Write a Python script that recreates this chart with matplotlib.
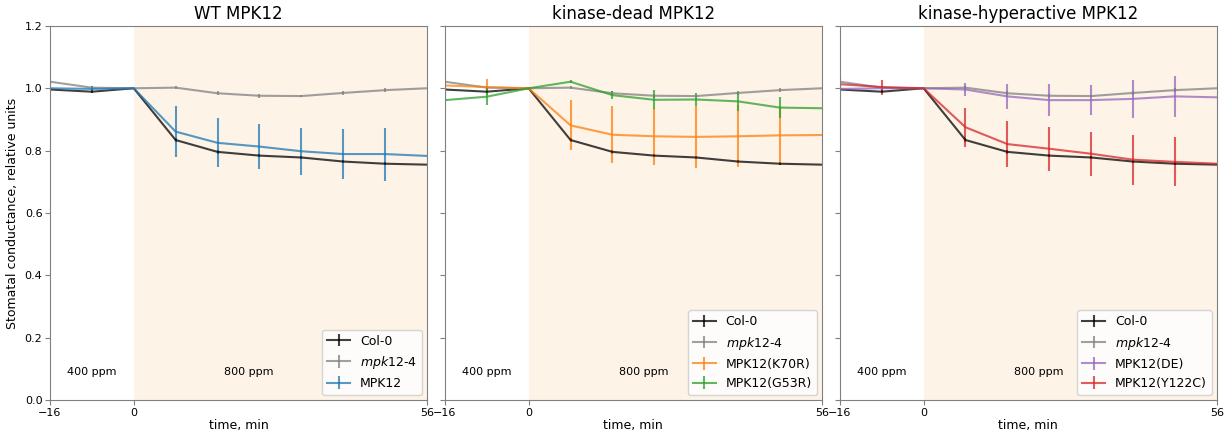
import matplotlib
matplotlib.use("Agg")
import matplotlib.pyplot as plt
import numpy as np

# time points, min
t = [-16, -8, 0, 8, 16, 24, 32, 40, 48, 56]

col0 = [0.996, 0.989, 1.0, 0.834, 0.796, 0.784, 0.778, 0.765, 0.758, 0.755]
col0_err = [0.005, 0.004, 0.0, 0.006, 0.006, 0.005, 0.005, 0.005, 0.005, 0.0]
mpk12_4 = [1.021, 1.002, 1.0, 1.002, 0.984, 0.976, 0.975, 0.985, 0.994, 1.0]
mpk12_4_err = [0.005, 0.006, 0.0, 0.004, 0.006, 0.006, 0.004, 0.005, 0.006, 0.0]

mpk12 = [1.0, 0.998, 1.0, 0.861, 0.825, 0.813, 0.798, 0.789, 0.789, 0.783]
mpk12_err = [0.025, 0.01, 0.0, 0.082, 0.079, 0.072, 0.076, 0.08, 0.085, 0.0]

k70r = [1.009, 1.004, 1.0, 0.881, 0.851, 0.846, 0.844, 0.846, 0.849, 0.85]
k70r_err = [0.03, 0.025, 0.0, 0.08, 0.092, 0.091, 0.1, 0.1, 0.092, 0.0]
g53r = [0.962, 0.973, 1.0, 1.021, 0.978, 0.963, 0.964, 0.958, 0.938, 0.936]
g53r_err = [0.03, 0.027, 0.0, 0.004, 0.013, 0.031, 0.022, 0.03, 0.034, 0.0]

de = [0.998, 1.0, 1.0, 0.996, 0.974, 0.962, 0.962, 0.966, 0.974, 0.971]
de_err = [0.034, 0.005, 0.0, 0.021, 0.04, 0.052, 0.049, 0.061, 0.065, 0.0]
y122c = [1.013, 1.004, 1.0, 0.875, 0.821, 0.806, 0.79, 0.771, 0.764, 0.758]
y122c_err = [0.02, 0.024, 0.0, 0.062, 0.075, 0.07, 0.07, 0.08, 0.079, 0.0]

panels = [
    ("WT MPK12", [("MPK12", mpk12, mpk12_err, "tab:blue")]),
    ("kinase-dead MPK12", [("MPK12(K70R)", k70r, k70r_err, "tab:orange"),
                           ("MPK12(G53R)", g53r, g53r_err, "tab:green")]),
    ("kinase-hyperactive MPK12", [("MPK12(DE)", de, de_err, "tab:purple"),
                                  ("MPK12(Y122C)", y122c, y122c_err, "tab:red")]),
]

fig, axes = plt.subplots(1, 3, figsize=(12.29, 4.32), dpi=100, sharey=True)
plt.subplots_adjust(left=0.0407, right=0.990, top=0.94, bottom=0.074, wspace=0.048)

for ax, (title, lines) in zip(axes, panels):
    ax.axvspan(0, 56, color="#fdf3e7", lw=0)
    ax.errorbar(t, col0, yerr=col0_err, color="black", alpha=0.75, label="Col-0")
    ax.errorbar(t, mpk12_4, yerr=mpk12_4_err, color="gray", alpha=0.75,
                label="$\\it{mpk}$12-4")
    for name, y, err, c in lines:
        ax.errorbar(t, y, yerr=err, color=c, alpha=0.75, label=name)
    ax.text(-8, 0.09, "400 ppm", ha="center", va="center", fontsize=8)
    ax.text(22, 0.09, "800 ppm", ha="center", va="center", fontsize=8)
    ax.set_xlim(-16, 56)
    ax.set_ylim(0, 1.2)
    ax.set_xticks([-16, 0, 56])
    ax.set_xlabel("time, min", fontsize=9, labelpad=1)
    ax.set_title(title, fontsize=12, pad=5)
    ax.tick_params(labelsize=8, color="gray", pad=2)
    for s in ax.spines.values():
        s.set_color("gray")
    ax.legend(loc="lower right", fontsize=9, handlelength=1.8, borderaxespad=0.4)

axes[0].set_ylabel("Stomatal conductance, relative units", fontsize=9)

plt.savefig("out.png", dpi=100)
